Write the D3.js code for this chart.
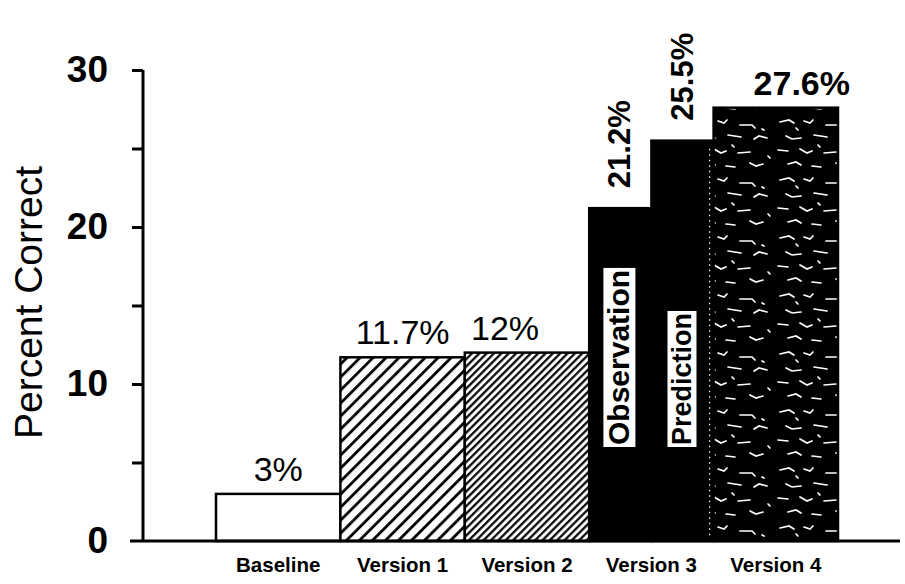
<!DOCTYPE html>
<html><head><meta charset="utf-8">
<script src="https://cdn.jsdelivr.net/npm/d3@7"></script>
<style>
body{margin:0;background:#fff;}
text{font-family:"Liberation Sans",Arial,Helvetica,sans-serif;fill:#000;}
</style></head>
<body><svg id="c" width="905" height="584"></svg>
<script>
const categories = ["Baseline","Version 1","Version 2","Version 3","Version 4"];
// Version 3 is split into two sub-bars
const bars = [
  {cat:"Baseline",  sub:null,          value:3.0,  label:"3%",    fill:"white"},
  {cat:"Version 1", sub:null,          value:11.7, label:"11.7%", fill:"url(#hatchWide)"},
  {cat:"Version 2", sub:null,          value:12.0, label:"12%",   fill:"url(#hatchDense)"},
  {cat:"Version 3", sub:"Observation", value:21.2, label:"21.2%", fill:"#000"},
  {cat:"Version 3", sub:"Prediction",  value:25.5, label:"25.5%", fill:"#000"},
  {cat:"Version 4", sub:null,          value:27.6, label:"27.6%", fill:"url(#speckle)"}
];
const subGroups = ["Observation","Prediction"];
const majorTicks = [0,10,20,30];
const minorTicks = [5,15,25];
const yTitle = "Percent Correct";

const svg = d3.select("#c");
const x = d3.scaleBand().domain(categories).range([216,838]).padding(0);
const xs = d3.scaleBand().domain(subGroups).range([0,x.bandwidth()]).padding(0);
const y = d3.scaleLinear().domain([0,30]).range([541,70]);

// patterns
const defs = svg.append("defs");
const p1 = defs.append("pattern").attr("id","hatchWide").attr("patternUnits","userSpaceOnUse")
  .attr("width",9.2).attr("height",9.2).attr("patternTransform","rotate(45)");
p1.append("rect").attr("width",9.2).attr("height",9.2).attr("fill","#fff");
p1.append("line").attr("x1",1.5).attr("x2",1.5).attr("y1",0).attr("y2",9.2).attr("stroke","#000").attr("stroke-width",2.8);
const p2 = defs.append("pattern").attr("id","hatchDense").attr("patternUnits","userSpaceOnUse")
  .attr("width",5.2).attr("height",5.2).attr("patternTransform","rotate(45)");
p2.append("rect").attr("width",5.2).attr("height",5.2).attr("fill","#fff");
p2.append("line").attr("x1",1.2).attr("x2",1.2).attr("y1",0).attr("y2",5.2).attr("stroke","#000").attr("stroke-width",2.2);
const p3 = defs.append("pattern").attr("id","speckle").attr("patternUnits","userSpaceOnUse")
  .attr("width",86).attr("height",58);
p3.append("rect").attr("width",86).attr("height",58).attr("fill","#000");
const specks = [
  "M6,6 l9,-2 l5,3","M30,5 l6,2 l3,-3","M52,9 l12,0 l3,3",
  "M12,20 l6,3 l9,-1","M40,19 l13,2","M66,23 l5,-3 l8,2",
  "M4,34 l10,1","M26,33 l7,4 l5,-2","M50,37 l12,-1",
  "M14,48 l8,-2 l5,3","M38,50 l9,1","M62,47 l6,3 l7,-2",
  "M22,12 l2,2","M74,13 l2,1","M44,29 l2,2","M80,40 l2,2"
];
p3.selectAll("path").data(specks).join("path").attr("d",d=>d)
  .attr("fill","none").attr("stroke","#fff").attr("stroke-width",1.7).attr("stroke-linecap","round");

// bars
const barX = d => d.sub ? x(d.cat)+xs(d.sub) : x(d.cat);
const barW = d => d.sub ? xs.bandwidth() : x.bandwidth();
svg.append("g").selectAll("rect").data(bars).join("rect")
  .attr("x",barX).attr("width",barW)
  .attr("y",d=>y(d.value)).attr("height",d=>y(0)-y(d.value))
  .attr("fill",d=>d.fill).attr("stroke","#000").attr("stroke-width",2.5);

// dotted white seam on prediction bar
const pred = bars[4];
svg.append("line").attr("x1",barX(pred)+barW(pred)-4).attr("x2",barX(pred)+barW(pred)-4)
  .attr("y1",y(pred.value)+8).attr("y2",y(0)-4)
  .attr("stroke","#fff").attr("stroke-width",1.2).attr("stroke-dasharray","1.5,4");

// y axis
const yAxis = d3.axisLeft(y).tickValues(majorTicks).tickSize(11).tickPadding(24).tickFormat(d3.format("d"));
const gy = svg.append("g").attr("transform","translate(143,0)").call(yAxis);
gy.select(".domain").attr("stroke","#000").attr("stroke-width",3).attr("d",`M0,${y(30)}V${y(0)}`);
gy.selectAll(".tick line").attr("stroke-width",3);
gy.selectAll(".tick text").attr("font-size",37).attr("font-weight","bold")
  .attr("font-family",'"Liberation Sans",Arial,sans-serif');
gy.selectAll(".tick").filter(d=>d===0).select("line").remove();
const gyMinor = svg.append("g").attr("transform","translate(143,0)")
  .call(d3.axisLeft(y).tickValues(minorTicks).tickSize(11).tickFormat(""));
gyMinor.select(".domain").remove();
gyMinor.selectAll(".tick line").attr("stroke-width",3);

// x axis baseline
const xAxis = d3.axisBottom(x).tickSize(0).tickPadding(16);
const gx = svg.append("g").attr("transform",`translate(0,${y(0)})`).call(xAxis);
gx.select(".domain").attr("stroke","#000").attr("stroke-width",3).attr("d","M130,0H900");
gx.selectAll(".tick text").attr("font-size",20.5).attr("font-weight","bold")
  .attr("font-family",'"Liberation Sans",Arial,sans-serif');

// y title
svg.append("text").attr("transform",`translate(42,${(y(0)+y(30))/2-3}) rotate(-90)`)
  .attr("text-anchor","middle").attr("font-size",39).text(yTitle);

// value labels: horizontal
const horiz = bars.filter(d=>!d.sub);
const labelDx = {"Baseline":0,"Version 1":0,"Version 2":-22,"Version 4":26};
svg.append("g").selectAll("text").data(horiz).join("text")
  .attr("x",d=>x(d.cat)+x.bandwidth()/2+labelDx[d.cat])
  .attr("y",d=>y(d.value)-13)
  .attr("text-anchor","middle").attr("font-size",34)
  .attr("font-weight",d=>d.cat==="Version 4"?"bold":"normal")
  .text(d=>d.label);

// value labels: rotated over sub-bars
const subs = bars.filter(d=>d.sub);
svg.append("g").selectAll("text").data(subs).join("text")
  .attr("transform",d=>`translate(${barX(d)+barW(d)/2+10},${y(d.value)-20}) rotate(-90)`)
  .attr("text-anchor","start").attr("font-size",31).attr("font-weight","bold")
  .text(d=>d.label);

// sub-bar name boxes
const nameSize = {"Observation":30,"Prediction":27};
const nameG = svg.append("g").selectAll("g").data(subs).join("g")
  .attr("transform",d=>`translate(${barX(d)+barW(d)/2-2},${y(0)-93}) rotate(-90)`);
nameG.append("rect").attr("fill","#fff");
nameG.append("text").attr("x",3).attr("y",d=>nameSize[d.sub]*0.37).attr("font-size",d=>nameSize[d.sub]).attr("font-weight","bold")
  .text(d=>d.sub);
nameG.each(function(){
  const g=d3.select(this); const b=g.select("text").node().getBBox();
  g.select("rect").attr("x",b.x-2).attr("y",b.y+1).attr("width",b.width+4).attr("height",b.height-1);
});
</script></body></html>
